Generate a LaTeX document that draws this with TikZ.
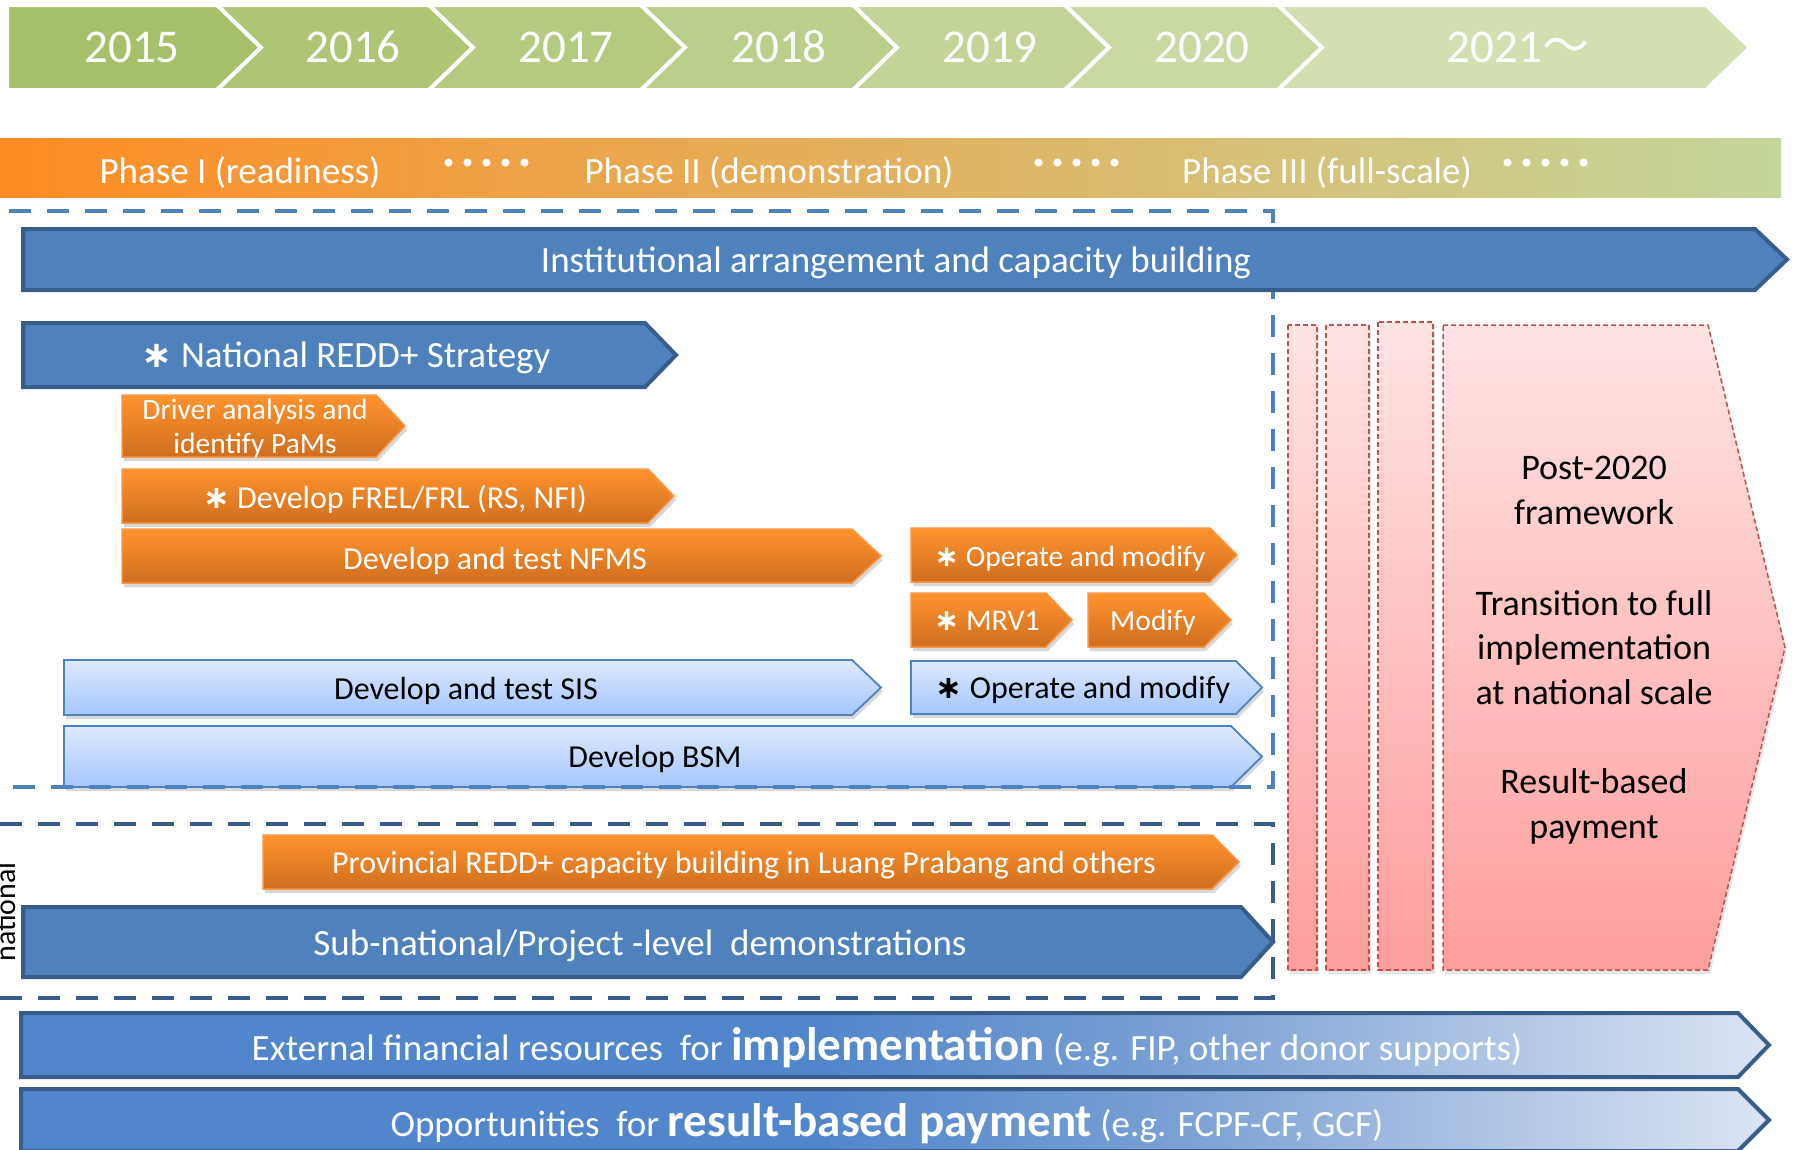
\documentclass[tikz,border=0pt]{standalone}
\usepackage{fontspec}
\setmainfont{Carlito}
\newfontfamily\cjkfont{Noto Sans CJK JP}
\newfontfamily\symfont{DejaVu Sans}
\usetikzlibrary{shadows}
\definecolor{yr1}{RGB}{166,192,106}
\definecolor{yr2}{RGB}{173,197,117}
\definecolor{yr3}{RGB}{180,202,128}
\definecolor{yr4}{RGB}{187,207,140}
\definecolor{yr5}{RGB}{194,212,152}
\definecolor{yr6}{RGB}{201,217,164}
\definecolor{yr7}{RGB}{209,223,177}
\definecolor{phA}{RGB}{255,140,35}
\definecolor{phB}{RGB}{236,170,82}
\definecolor{phC}{RGB}{196,214,155}
\definecolor{dkfill}{RGB}{79,129,189}
\definecolor{dkline}{RGB}{56,93,138}
\definecolor{orTop}{RGB}{255,147,46}
\definecolor{orBot}{RGB}{208,110,31}
\definecolor{orLine}{RGB}{247,150,70}
\definecolor{lbTop}{RGB}{222,233,252}
\definecolor{lbBot}{RGB}{165,198,255}
\definecolor{lbLine}{RGB}{79,129,189}
\definecolor{pkTop}{RGB}{255,228,228}
\definecolor{pkBot}{RGB}{255,157,157}
\definecolor{pkLine}{RGB}{192,80,77}
\definecolor{finA}{RGB}{82,134,204}
\definecolor{finB}{RGB}{122,160,212}
\definecolor{finC}{RGB}{220,228,243}
\pgfdeclarehorizontalshading{finshade}{100bp}{color(0bp)=(finA); color(48bp)=(finA); color(58bp)=(finB); color(75bp)=(finC); color(100bp)=(finC)}
\newcommand\arrowbar[6]{\path[#1] (#2,#5) -- (#3,#5) -- (#4,{(#5+#6)/2}) -- (#3,#6) -- (#2,#6) -- cycle;}
\newcommand\yearchev[3]{\path[yr, fill=#1] (#2,5) -- (#3,5) -- ({#3+44},47.5) -- (#3,90) -- (#2,90) -- ({#2+44},47.5) -- cycle;}
\newcommand\asterx{{\symfont\bfseries ∗}}
\begin{document}
\begin{tikzpicture}[x=1pt,y=-1pt,
  yr/.style={draw=white, line width=4pt, line join=miter},
  darkbar/.style={fill=dkfill, draw=dkline, line width=4pt, line join=miter},
  orbar/.style={top color=orTop, bottom color=orBot, draw=orLine, line width=1.5pt,
     drop shadow={opacity=0.25, shadow xshift=2pt, shadow yshift=-4pt, fill=black!60}},
  lbbar/.style={top color=lbTop, bottom color=lbBot, draw=lbLine, line width=1.8pt,
     drop shadow={opacity=0.25, shadow xshift=2pt, shadow yshift=-4pt, fill=black!60}},
  finbar/.style={shading=finshade, draw=dkline, line width=4pt, line join=miter},
  pkbox/.style={top color=pkTop, bottom color=pkBot, draw=pkLine, line width=1.5pt,
     dash pattern=on 5pt off 3pt,
     drop shadow={opacity=0.2, shadow xshift=2pt, shadow yshift=-4pt, fill=black!50}},
  natdash/.style={draw=dkfill, line width=4.5pt, dash pattern=on 22pt off 16pt},
  subdash/.style={draw=dkline, line width=4.5pt, dash pattern=on 22pt off 16pt},
  t/.style={inner sep=0pt, text depth=0pt},
  s47/.style={t, font=\fontsize{47}{56}\selectfont, text height=30pt},
  s37/.style={t, font=\fontsize{37}{44}\selectfont, text height=23.7pt},
  s32/.style={t, font=\fontsize{32}{38}\selectfont, text height=20.5pt},
  s30/.style={t, font=\fontsize{30}{36}\selectfont, text height=19.2pt},
  s29/.style={t, font=\fontsize{29.5}{35}\selectfont, text height=18.9pt},
  pk/.style={inner sep=0pt, anchor=base, font=\fontsize{36}{44}\selectfont, text=black},
  dots/.style={inner sep=0pt, text=white, font=\cjkfont\bfseries\fontsize{38}{40}\selectfont},
]
\useasboundingbox[fill=white] (0,0) rectangle (1794,1149);

% ---- year chevrons
\path[yr, fill=yr1] (7,5) -- (217,5) -- (261,47.5) -- (217,90) -- (7,90) -- cycle;
\yearchev{yr2}{217}{429}
\yearchev{yr3}{429}{641}
\yearchev{yr4}{641}{853}
\yearchev{yr5}{853}{1065}
\yearchev{yr6}{1065}{1278}
\yearchev{yr7}{1278}{1706}
\node[s47, text=white] (y15) at (132,47) {2015};
\node[s47, text=white] (y16) at (353,47) {2016};
\node[s47, text=white] (y17) at (566,47) {2017};
\node[s47, text=white] (y18) at (779,47) {2018};
\node[s47, text=white] (y19) at (990,47) {2019};
\node[s47, text=white] (y20) at (1202,47) {2020};
\node[s47, text=white] (y21) at (1518,47) {2021{\cjkfont ～}};

% ---- phase bar
\path[left color=phA, middle color=phB, right color=phC] (0,138) rectangle (1781,197);
\node[s37, text=white] (ph1) at (240,172) {Phase I (readiness)};
\node[s37, text=white] (ph2) at (769,172) {Phase II (demonstration)};
\node[s37, text=white] (ph3) at (1327,172) {Phase III (full-scale)};
\node[dots] (dt1) at (487,168) {･････};
\node[dots] (dt2) at (1077,168) {･････};
\node[dots] (dt3) at (1546,168) {･････};

% ---- post-2020 pink boxes
\path[pkbox] (1288,325) rectangle (1317,970);
\path[pkbox] (1326,325) rectangle (1369,970);
\path[pkbox] (1378,322) rectangle (1433,970);
\path[pkbox] (1443,325) -- (1708,325) -- (1785,647.5) -- (1708,970) -- (1443,970) -- cycle;
\node[pk] (pa1) at (1594,479) {Post-2020};
\node[pk] (pa2) at (1594,524) {framework};
\node[pk] (pb1) at (1594,615) {Transition to full};
\node[pk] (pb2) at (1594,659) {implementation};
\node[pk] (pb3) at (1594,704) {at national scale};
\node[pk] (pc1) at (1594,793) {Result-based};
\node[pk] (pc2) at (1594,838) {payment};

% ---- national-level boxes
\arrowbar{darkbar}{23}{645}{676}{323}{387}
\node[s37, text=white] (strat) at (346,356) {\asterx\ National REDD+ Strategy};

\arrowbar{orbar}{122}{376}{405}{395}{457}
\node[s29, text=white] (drv1) at (255,410) {Driver analysis and};
\node[s29, text=white] (drv2) at (255,444) {identify PaMs};
\arrowbar{orbar}{122}{648}{674}{469}{523}
\node[s32, text=white] (frel) at (395,498) {\asterx\ Develop FREL/FRL (RS, NFI)};
\arrowbar{orbar}{122}{852}{881}{529}{583}
\node[s32, text=white] (nfms) at (495,559) {Develop and test NFMS};
\arrowbar{orbar}{911}{1210}{1237}{528}{582}
\node[s29, text=white] (opm1) at (1070,557) {\asterx\ Operate and modify};
\arrowbar{orbar}{911}{1046}{1072}{593}{647}
\node[s30, text=white] (mrv) at (987,621) {\asterx\ MRV1};
\arrowbar{orbar}{1088}{1204}{1231}{593}{647}
\node[s29, text=white] (mod) at (1153,621) {Modify};

\arrowbar{lbbar}{64}{852}{881}{660}{715}
\node[s32, text=black] (sis) at (466,689) {Develop and test SIS};
\arrowbar{lbbar}{911}{1236}{1262}{661}{714}
\node[s32, text=black] (opm2) at (1083,688) {\asterx\ Operate and modify};
\arrowbar{lbbar}{64}{1231}{1262}{726}{787}
\node[s32, text=black] (bsm) at (655,757) {Develop BSM};

\draw[natdash] (9,211) -- (1273,211) -- (1273,787) -- (5,787);

\arrowbar{darkbar}{23}{1755}{1787}{229}{290}
\node[s37, text=white] (inst) at (896,261) {Institutional arrangement and capacity building};

% ---- sub-national
\draw[subdash] (0,824) -- (1273,824) -- (1273,998) -- (0,998);
\node[inner sep=0pt, anchor=base, rotate=90, font=\fontsize{30}{36}\selectfont] (natl) at (15,912) {national};
\arrowbar{orbar}{263}{1212}{1239}{835}{889}
\node[s32, text=white] (prov) at (744,863) {Provincial REDD+ capacity building in Luang Prabang and others};
\arrowbar{darkbar}{23}{1241}{1273}{907}{977}
\node[s37, text=white] (subn) at (640,944) {Sub-national/Project -level\ \ demonstrations};

% ---- finance bars
\arrowbar{finbar}{21}{1738}{1769}{1013}{1077}
\node[inner sep=0pt, anchor=base, text=white, font=\fontsize{37}{44}\selectfont] (ext) at (887,1060)
  {External financial resources\ \ for {\fontsize{47}{50}\selectfont\bfseries implementation} (e.g. FIP, other donor supports)};
\arrowbar{finbar}{21}{1738}{1769}{1089}{1151}
\node[inner sep=0pt, anchor=base, text=white, font=\fontsize{37}{44}\selectfont] (opp) at (887,1136)
  {Opportunities\ \ for {\fontsize{47}{50}\selectfont\bfseries result-based payment} (e.g. FCPF-CF, GCF)};
\end{tikzpicture}
\end{document}
